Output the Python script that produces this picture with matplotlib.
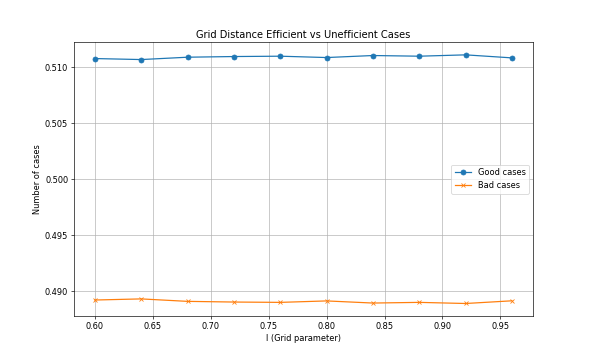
import matplotlib
matplotlib.use("Agg")
import matplotlib.pyplot as plt

l_values = [0.60, 0.64, 0.68, 0.72, 0.76, 0.80, 0.84, 0.88, 0.92, 0.96]
good_cases = [0.51077, 0.51068, 0.51089, 0.51095, 0.51098, 0.51086, 0.51104, 0.51098, 0.51110, 0.51083]
bad_cases = [0.48921, 0.48931, 0.48909, 0.48903, 0.48900, 0.48913, 0.48894, 0.48900, 0.48890, 0.48914]

fig, ax = plt.subplots(figsize=(10, 6), dpi=59.2)
ax.plot(l_values, good_cases, marker='o', label='Good cases')
ax.plot(l_values, bad_cases, marker='x', label='Bad cases')
ax.set_title('Grid Distance Efficient vs Unefficient Cases')
ax.set_xlabel('l (Grid parameter)')
ax.set_ylabel('Number of cases')
ax.legend()
ax.grid(True)
fig.savefig('out.png', dpi=59.2)
